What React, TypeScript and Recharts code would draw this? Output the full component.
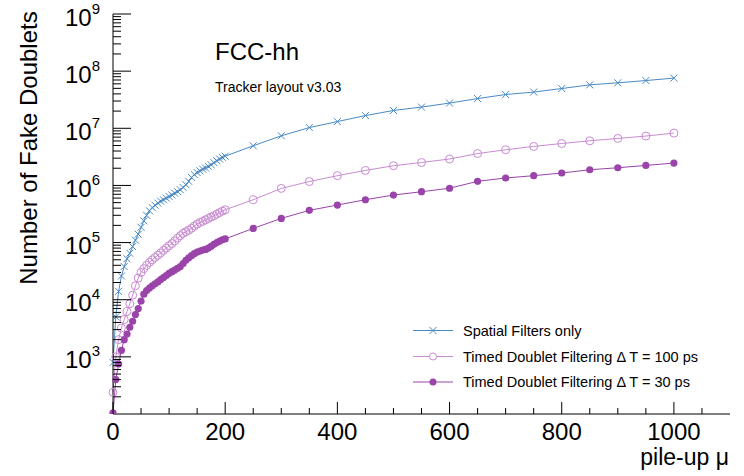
import React from 'react';
import { LineChart, Line, XAxis, YAxis } from 'recharts';

// pile-up values (x)
const pileUp = [
  0, 5, 10, 15, 20, 25, 30, 35, 40, 45, 50, 55, 60, 65, 70, 75, 80, 85, 90, 95, 100,
  105, 110, 115, 120, 125, 130, 135, 140, 145, 150, 155, 160, 165, 170, 175, 180, 185, 190, 195, 200,
  250, 300, 350, 400, 450, 500, 550, 600, 650, 700, 750, 800, 850, 900, 950, 1000,
];

const spatialOnly = [
  800, 5000, 14000, 26000, 38000, 52000, 65000, 85000, 110000, 140000, 185000, 240000, 300000, 360000, 410000, 450000, 490000, 530000, 560000, 600000, 640000,
  680000, 730000, 780000, 840000, 920000, 1030000, 1180000, 1380000, 1550000, 1680000, 1800000, 1920000, 2020000, 2150000, 2300000, 2500000, 2700000, 2900000, 3100000, 3250000,
  4.94e6, 7.39e6, 1.03e7, 1.31e7, 1.67e7, 2.05e7, 2.35e7, 2.76e7, 3.31e7, 3.9e7, 4.3e7, 4.96e7, 5.76e7, 6.25e7, 6.85e7, 7.55e7,
];

const timed100ps = [
  240, 1000, 2000, 3200, 4500, 6200, 8500, 12000, 17500, 24000, 30000, 35000, 40000, 45000, 50000, 55000, 60000, 66000, 73000, 80000, 88000,
  96000, 107000, 120000, 132000, 145000, 155000, 165000, 178000, 195000, 210000, 225000, 235000, 250000, 265000, 280000, 295000, 315000, 335000, 355000, 375000,
  5.62e5, 8.87e5, 1.17e6, 1.48e6, 1.83e6, 2.21e6, 2.52e6, 2.9e6, 3.61e6, 4.21e6, 4.81e6, 5.42e6, 6.04e6, 6.64e6, 7.31e6, 8.24e6,
];

const timed30ps = [
  105, 400, 750, 1300, 2000, 2500, 3300, 4200, 5500, 7000, 9500, 12500, 14500, 16000, 17500, 19000, 20500, 22500, 24500, 26500, 29000,
  31000, 33000, 35500, 38000, 43000, 49000, 54000, 59000, 64000, 68000, 71000, 74000, 76000, 80000, 86000, 93000, 100000, 106000, 112000, 116000,
  1.77e5, 2.65e5, 3.66e5, 4.54e5, 5.62e5, 6.79e5, 7.76e5, 8.93e5, 1.18e6, 1.35e6, 1.48e6, 1.65e6, 1.88e6, 2.04e6, 2.24e6, 2.46e6,
];

const xMajorTicks = [0, 200, 400, 600, 800, 1000];
const xMinorTicks = [50, 100, 150, 250, 300, 350, 450, 500, 550, 650, 700, 750, 850, 900, 950, 1050];
const yMajorTicks = [1e3, 1e4, 1e5, 1e6, 1e7, 1e8, 1e9];
const yMinorMantissas = [2, 3, 4, 5, 6, 7, 8, 9];

const legendLabels = [
  'Spatial Filters only',
  'Timed Doublet Filtering \u0394 T = 100 ps',
  'Timed Doublet Filtering \u0394 T = 30 ps',
];

const BLUE = '#4a8ac4';
const PINK = '#c98ad2';
const PURPLE = '#9a44aa';
const FONT = '"Liberation Sans", Arial, Helvetica, sans-serif';

const data = pileUp.map((x, i) => ({
  x,
  spatial: spatialOnly[i],
  t100: timed100ps[i],
  t30: timed30ps[i],
}));

const yMinorTicks = [1e2, ...yMajorTicks.slice(0, -1)].flatMap((d) => yMinorMantissas.map((m) => m * d));
const yTicks = [...yMinorTicks, ...yMajorTicks].sort((a, b) => a - b);
const xTicks = [...xMajorTicks, ...xMinorTicks].sort((a, b) => a - b);

const XTick = (props: any) => {
  const { x, y, payload } = props;
  const major = xMajorTicks.includes(payload.value);
  return (
    <g>
      <line x1={x} x2={x} y1={y} y2={y - (major ? 12 : 6)} stroke="#000" strokeWidth={1} />
      {major && (
        <text x={x} y={y + 25.5} textAnchor="middle" fontSize={24} fontFamily={FONT} fill="#000">
          {payload.value}
        </text>
      )}
    </g>
  );
};

const YTick = (props: any) => {
  const { x, y, payload } = props;
  const major = yMajorTicks.includes(payload.value);
  const exp = Math.round(Math.log10(payload.value));
  return (
    <g>
      <line x1={x} x2={x + (major ? 18 : 8)} y1={y} y2={y} stroke="#000" strokeWidth={1} />
      {major && (
        <text x={x - 13} y={y + 11.5} textAnchor="end" fontSize={24} fontFamily={FONT} fill="#000">
          <tspan>10</tspan>
          <tspan dy={-12} fontSize={15}>{exp}</tspan>
        </text>
      )}
    </g>
  );
};

const Cross = (props: any) => {
  const { cx, cy, index } = props;
  if (cx == null || cy == null) return <g key={`c${index}`} />;
  const s = 3.5;
  return (
    <path
      key={`c${index}`}
      d={`M${cx - s},${cy - s}L${cx + s},${cy + s}M${cx - s},${cy + s}L${cx + s},${cy - s}`}
      stroke={BLUE}
      strokeWidth={1}
      fill="none"
    />
  );
};

const OpenCircle = (props: any) => {
  const { cx, cy, index } = props;
  if (cx == null || cy == null) return <g key={`o${index}`} />;
  return <circle key={`o${index}`} cx={cx} cy={cy} r={4} stroke={PINK} strokeWidth={1} fill="none" />;
};

const FullCircle = (props: any) => {
  const { cx, cy, index } = props;
  if (cx == null || cy == null) return <g key={`f${index}`} />;
  return <circle key={`f${index}`} cx={cx} cy={cy} r={3.6} fill={PURPLE} stroke="none" />;
};

const Overlay = () => {
  const rows = [330.5, 356.5, 382];
  const colors = [BLUE, PINK, PURPLE];
  return (
    <svg width={744} height={476} style={{ position: 'absolute', left: 0, top: 0, pointerEvents: 'none' }}>
      <text
        transform="translate(37,148) rotate(-90)"
        textAnchor="middle"
        fontSize={24}
        fontFamily={FONT}
        fill="#000"
      >
        Number of Fake Doublets
      </text>
      <text x={729} y={465} textAnchor="end" fontSize={23} fontFamily={FONT} fill="#000">
        pile-up μ
      </text>
      <text x={215} y={60} fontSize={24} fontFamily={FONT} fill="#000">
        FCC-hh
      </text>
      <text x={215} y={91.5} fontSize={14} fontFamily={FONT} fill="#000">
        Tracker layout v3.03
      </text>
      {legendLabels.map((label, i) => {
        const y = rows[i];
        return (
          <g key={label}>
            <line x1={413} x2={453} y1={y} y2={y} stroke={colors[i]} strokeWidth={1} />
            {i === 0 && <Cross cx={433} cy={y} index={-1} />}
            {i === 1 && <circle cx={433} cy={y} r={3.5} stroke={PINK} fill="#fff" />}
            {i === 2 && <circle cx={433} cy={y} r={3.5} fill={PURPLE} />}
            <text x={463} y={y + 5} fontSize={14.5} fontFamily={FONT} fill="#000">
              {label}
            </text>
          </g>
        );
      })}
    </svg>
  );
};

export default function App() {
  return (
    <div style={{ position: 'absolute', left: 0, top: 0, width: 744, height: 476, background: '#fff' }}>
      <LineChart width={744} height={476} data={data} margin={{ top: 14, right: 14, bottom: 0, left: 0 }}>
        <XAxis
          dataKey="x"
          type="number"
          domain={[0, 1100]}
          ticks={xTicks}
          interval={0}
          tick={<XTick />}
          tickLine={false}
          tickSize={0}
          tickMargin={0}
          height={62}
          stroke="#000"
        />
        <XAxis xAxisId="top" orientation="top" dataKey="x" type="number" domain={[0, 1100]} height={0} tick={false} tickLine={false} stroke="#000" />
        <YAxis
          scale="log"
          type="number"
          domain={[100, 1e9]}
          allowDataOverflow
          ticks={yTicks}
          interval={0}
          tick={<YTick />}
          tickLine={false}
          tickSize={0}
          tickMargin={0}
          width={113}
          stroke="#000"
        />
        <YAxis yAxisId="right" orientation="right" width={0} tick={false} tickLine={false} stroke="#000" />
        <Line type="linear" dataKey="spatial" stroke={BLUE} strokeWidth={1} dot={<Cross />} isAnimationActive={false} />
        <Line type="linear" dataKey="t100" stroke={PINK} strokeWidth={1} dot={<OpenCircle />} isAnimationActive={false} />
        <Line type="linear" dataKey="t30" stroke={PURPLE} strokeWidth={1} dot={<FullCircle />} isAnimationActive={false} />
      </LineChart>
      <Overlay />
    </div>
  );
}
